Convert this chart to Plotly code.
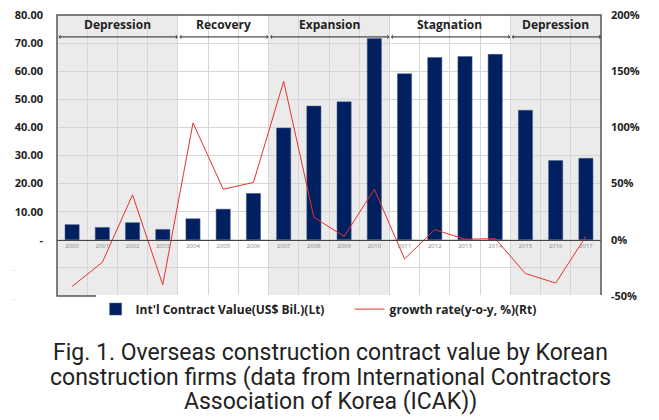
import plotly.graph_objects as go

years = [str(y) for y in range(2000, 2018)]
contract_value = [5.4, 4.4, 6.1, 3.7, 7.5, 10.9, 16.5, 39.8, 47.6, 49.1,
                  71.6, 59.1, 64.9, 65.2, 66.0, 46.1, 28.2, 29.0]
growth_rate = [-41.5, -20, 40, -40, 104, 45, 51, 141, 20, 3,
               45, -17, 9, 0.5, 1, -30, -38.5, 3]
phase_names = ["Depression", "Recovery", "Expansion", "Stagnation", "Depression"]
phase_start = ["2000", "2004", "2007", "2011", "2015"]
phase_end = ["2003", "2006", "2010", "2014", "2017"]
phase_shaded = [True, False, True, False, True]
left_ticks = [-20, -10, 0, 10, 20, 30, 40, 50, 60, 70, 80]
right_ticks = [-50, 0, 50, 100, 150, 200]
caption_lines = ["Fig. 1. Overseas construction contract value by Korean",
                 "construction firms (data from International Contractors",
                 "Association of Korea (ICAK))"]

BOLD = "Open Sans"
fig = go.Figure()
fig.add_trace(go.Bar(
    x=years, y=contract_value, name="Int'l Contract Value(US$ Bil.)(Lt)",
    marker=dict(color="#002060", line=dict(color="#4a5f8a", width=0.5)),
    yaxis="y"))
fig.add_trace(go.Scatter(
    x=years, y=growth_rate, name="growth rate(y-o-y, %)(Rt)", mode="lines",
    line=dict(color="#e8302c", width=1), yaxis="y2"))

shapes = []
annotations = []
for name, s, e, sh in zip(phase_names, phase_start, phase_end, phase_shaded):
    i0 = years.index(s) - 0.5
    i1 = years.index(e) + 0.5
    if sh:
        shapes.append(dict(type="rect", xref="x", yref="paper", x0=i0, x1=i1,
                           y0=0, y1=1, fillcolor="#ebebeb", line=dict(width=0),
                           layer="below"))
    annotations.append(dict(x=(i0 + i1) / 2, y=76.5, xref="x", yref="y",
                            text="<b>%s</b>" % name, showarrow=False,
                            font=dict(family=BOLD, size=12, color="#222")))
    annotations.append(dict(x=i1, y=72.2, ax=i0, ay=72.2, xref="x", yref="y",
                            axref="x", ayref="y", text="", showarrow=True,
                            arrowside="end+start", arrowhead=4, arrowsize=0.6,
                            arrowwidth=1, arrowcolor="#222"))

shapes.append(dict(type="rect", xref="paper", yref="paper", x0=0, x1=1, y0=0, y1=1,
                   line=dict(color="#555", width=1.5), layer="above"))

for v in [-10, -20]:
    annotations.append(dict(x=-0.085, y=v, xref="paper", yref="y", text=".",
                            showarrow=False, font=dict(size=8, color="#999")))

for k, line in enumerate(caption_lines):
    annotations.append(dict(
        x=(330 - 57) / 544, y=-(56 + 25 * k) / 281, xref="paper", yref="paper",
        yanchor="middle", text=line, showarrow=False,
        font=dict(family="Roboto, sans-serif", size=23, color="#222")))

fig.update_layout(
    width=651, height=412,
    margin=dict(l=49, r=58, t=7, b=124, autoexpand=False),
    plot_bgcolor="white", paper_bgcolor="white",
    bargap=0.53, showlegend=True,
    legend=dict(orientation="h", x=0.071, xanchor="left", y=0.005, yanchor="top",
                font=dict(family=BOLD, size=12, color="#222", weight="bold"),
                entrywidth=209, itemwidth=30),
    xaxis=dict(type="category", tickson="boundaries", showgrid=True,
               gridcolor="#d6d6d6", gridwidth=1, anchor="free", position=0.2,
               showline=True, linecolor="#444", linewidth=1, ticks="",
               tickfont=dict(size=6, color="#888"), range=[-0.5, 17.5]),
    yaxis=dict(range=[-20, 80], tickvals=left_ticks,
               ticktext=["", ""] + ["-"] + ["%.2f" % v for v in left_ticks[3:]],
               showgrid=True, gridcolor="#d6d6d6", zeroline=False,
               tickfont=dict(family=BOLD, size=11, color="#222", weight="bold"),
               ticks="", ticklabelstandoff=13, ticklabeloverflow="allow",
               domain=[0, 1]),
    yaxis2=dict(range=[-50, 200], tickvals=right_ticks,
                ticktext=["%d%%" % v for v in right_ticks], overlaying="y",
                side="right", showgrid=False, zeroline=False, ticks="",
                ticklabelstandoff=9, ticklabeloverflow="allow",
                tickfont=dict(family=BOLD, size=11, color="#222", weight="bold")),
    shapes=shapes, annotations=annotations,
)
fig.write_html("out.html")
